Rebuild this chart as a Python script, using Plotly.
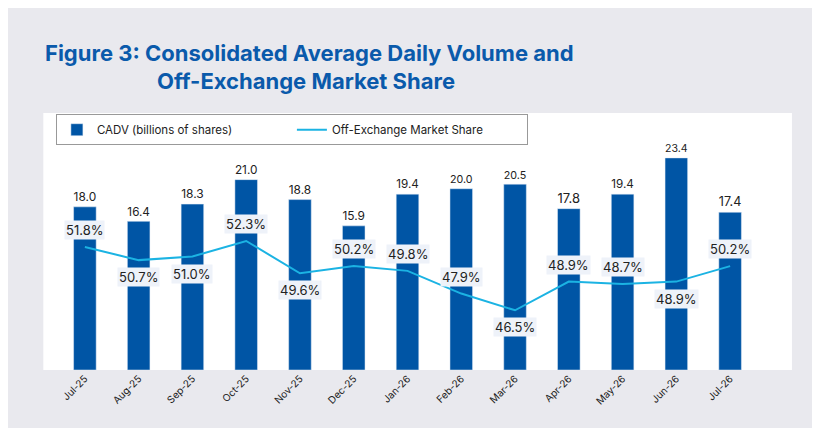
import plotly.graph_objects as go

months = ["Jul-25", "Aug-25", "Sep-25", "Oct-25", "Nov-25", "Dec-25", "Jan-26",
          "Feb-26", "Mar-26", "Apr-26", "May-26", "Jun-26", "Jul-26"]
cadv = [18.0, 16.4, 18.3, 21.0, 18.8, 15.9, 19.4, 20.0, 20.5, 17.8, 19.4, 23.4, 17.4]
share = [51.8, 50.7, 51.0, 52.3, 49.6, 50.2, 49.8, 47.9, 46.5, 48.9, 48.7, 48.9, 50.2]
# label above (+1) or below (-1) the line
label_side = [1, -1, -1, 1, -1, 1, 1, 1, -1, 1, 1, -1, 1]

BLUE = "#0055a5"
CYAN = "#1bb3e3"

fig = go.Figure()

# white panel behind the chart
fig.add_shape(type="rect", xref="paper", yref="paper", x0=-0.021, x1=1.05, y0=0, y1=1.02,
              fillcolor="white", line_width=0, layer="below")

fig.add_trace(go.Bar(x=months, y=cadv, name="CADV (billions of shares)", marker_color=BLUE,
                     width=0.42, text=[f"{v:.1f}" for v in cadv], textposition="outside",
                     textfont=dict(size=13, color="#222"), cliponaxis=False))
fig.add_trace(go.Scatter(x=months, y=share, name="Off-Exchange Market Share", mode="lines",
                         line=dict(color=CYAN, width=2), yaxis="y2"))

for m, v, s in zip(months, share, label_side):
    fig.add_annotation(x=m, y=v, yref="y2", text=f"{v:.1f}%", showarrow=False,
                       yshift=17 * s, bgcolor="#eef2f9", borderpad=1,
                       font=dict(size=13, color="#222"))

fig.update_layout(
    width=820, height=428,
    margin=dict(l=50, r=71, t=110, b=66, autoexpand=False),
    paper_bgcolor="#e9e9ee", plot_bgcolor="white",
    font=dict(family="Inter, Roboto, sans-serif", color="#222"),
    showlegend=True,
    legend=dict(orientation="h", x=-0.003, y=1.015, xanchor="left", yanchor="top",
                bordercolor="#999", borderwidth=1, bgcolor="white",
                font=dict(size=11.5), itemwidth=30, entrywidth=190),
    bargap=0.5,
    xaxis=dict(tickangle=-45, tickfont=dict(size=10), showgrid=False, ticks="",
               showline=False, range=[-0.5, 12.5], automargin=False),
    yaxis=dict(range=[0, 27.8], visible=False),
    yaxis2=dict(range=[41.5, 62.6], overlaying="y", visible=False),
    annotations=list(fig.layout.annotations) + [
        dict(xref="paper", yref="paper", x=-0.021, y=1.258, xanchor="left", yanchor="middle",
             showarrow=False, align="left",
             text="<b>Figure 3: Consolidated Average Daily Volume and</b>",
             font=dict(size=22, color="#0a5aab")),
        dict(xref="paper", yref="paper", x=0.139, y=1.147, xanchor="left", yanchor="middle",
             showarrow=False, align="left",
             text="<b>Off-Exchange Market Share</b>",
             font=dict(size=22, color="#0a5aab")),
    ],
)

fig.write_html("out.html")
